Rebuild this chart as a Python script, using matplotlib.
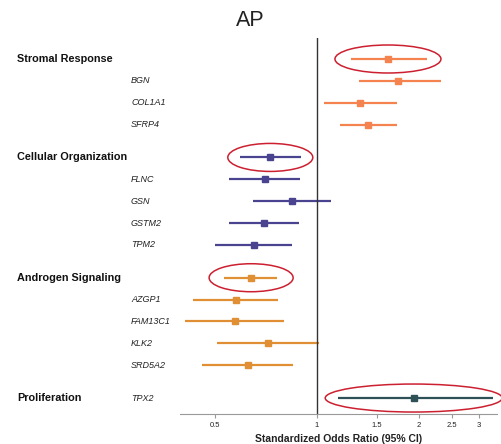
import numpy as np
import matplotlib.pyplot as plt
from matplotlib.patches import Ellipse
from matplotlib.transforms import ScaledTranslation, blended_transform_factory

plt.rcParams['font.family'] = ['Liberation Sans', 'DejaVu Sans']

# rows, top to bottom
labels = ["Stromal Response", "BGN", "COL1A1", "SFRP4",
          "Cellular Organization", "FLNC", "GSN", "GSTM2", "TPM2",
          "Androgen Signaling", "AZGP1", "FAM13C1", "KLK2", "SRD5A2",
          "TPX2"]
is_group = [1, 0, 0, 0, 1, 0, 0, 0, 0, 1, 0, 0, 0, 0, 0]
group = [0, 0, 0, 0, 1, 1, 1, 1, 1, 2, 2, 2, 2, 2, 3]
odds = [1.62, 1.74, 1.34, 1.41,
        0.728, 0.702, 0.844, 0.698, 0.653,
        0.639, 0.578, 0.574, 0.718, 0.626,
        1.93]
lower = [1.26, 1.33, 1.047, 1.17,
         0.593, 0.55, 0.649, 0.55, 0.50,
         0.533, 0.43, 0.409, 0.505, 0.459,
         1.153]
upper = [2.107, 2.32, 1.72, 1.72,
         0.897, 0.891, 1.10, 0.883, 0.845,
         0.760, 0.769, 0.798, 1.016, 0.848,
         3.31]
ypos = [0, 1, 2, 3, 4.5, 5.5, 6.5, 7.5, 8.5, 10, 11, 12, 13, 14, 15.5]
circled = [0, 4, 9, 14]
xticks = [0.5, 1, 1.5, 2, 2.5, 3]

colors = ['#f5834f', '#4a4490', '#e08f35', '#2e5157']
ell_w = [1.06, 0.85, 0.84, 1.77]  # inches

fig = plt.figure(figsize=(5.01, 4.44), dpi=100)
ax = fig.add_axes([180 / 501, 30 / 444, 317 / 501, 376 / 444])

for i in range(len(labels)):
    c = colors[group[i]]
    ax.plot([lower[i], upper[i]], [ypos[i], ypos[i]], color=c, lw=1.6,
            solid_capstyle='butt')
    ax.plot(odds[i], ypos[i], 's', color=c, ms=4.5)

ax.axvline(1, color='#333333', lw=1)

for k, i in enumerate(circled):
    tr = fig.dpi_scale_trans + ScaledTranslation(odds[i], ypos[i], ax.transData)
    ax.add_patch(Ellipse((0, 0), ell_w[k], 0.28, transform=tr, fill=False,
                         ec='#cc2030', lw=1.1, clip_on=False))

ax.set_xscale('log')
ax.set_xlim(0.394, 3.40)
ax.set_ylim(16.23, -0.96)
ax.set_xticks(xticks)
ax.set_xticklabels([str(t) for t in xticks])
ax.minorticks_off()
ax.tick_params(axis='x', labelsize=5.5, length=3, color='#999999', pad=3,
               labelcolor='#222222')
ax.set_yticks([])
for s in ['top', 'right', 'left']:
    ax.spines[s].set_visible(False)
ax.spines['bottom'].set_color('#999999')
ax.set_xlabel("Standardized Odds Ratio (95% CI)", fontsize=7.5,
              fontweight='bold', color='#222222', labelpad=3)

# row labels in the left margin
lab_tr = blended_transform_factory(fig.transFigure, ax.transData)
for i in range(len(labels)):
    if is_group[i]:
        ax.text(17 / 501, ypos[i], labels[i], transform=lab_tr,
                fontsize=7.8, fontweight='bold', va='center', color='#111111')
    else:
        ax.text(131 / 501, ypos[i], labels[i], transform=lab_tr,
                fontsize=6.5, style='italic', va='center', color='#222222')
ax.text(17 / 501, ypos[-1], "Proliferation", transform=lab_tr,
        fontsize=7.8, fontweight='bold', va='center', color='#111111')

fig.text(0.5, 1 - 20 / 444, "AP", ha='center', va='center', fontsize=15.5,
         color='#222222')

fig.savefig('out.png', dpi=100)
